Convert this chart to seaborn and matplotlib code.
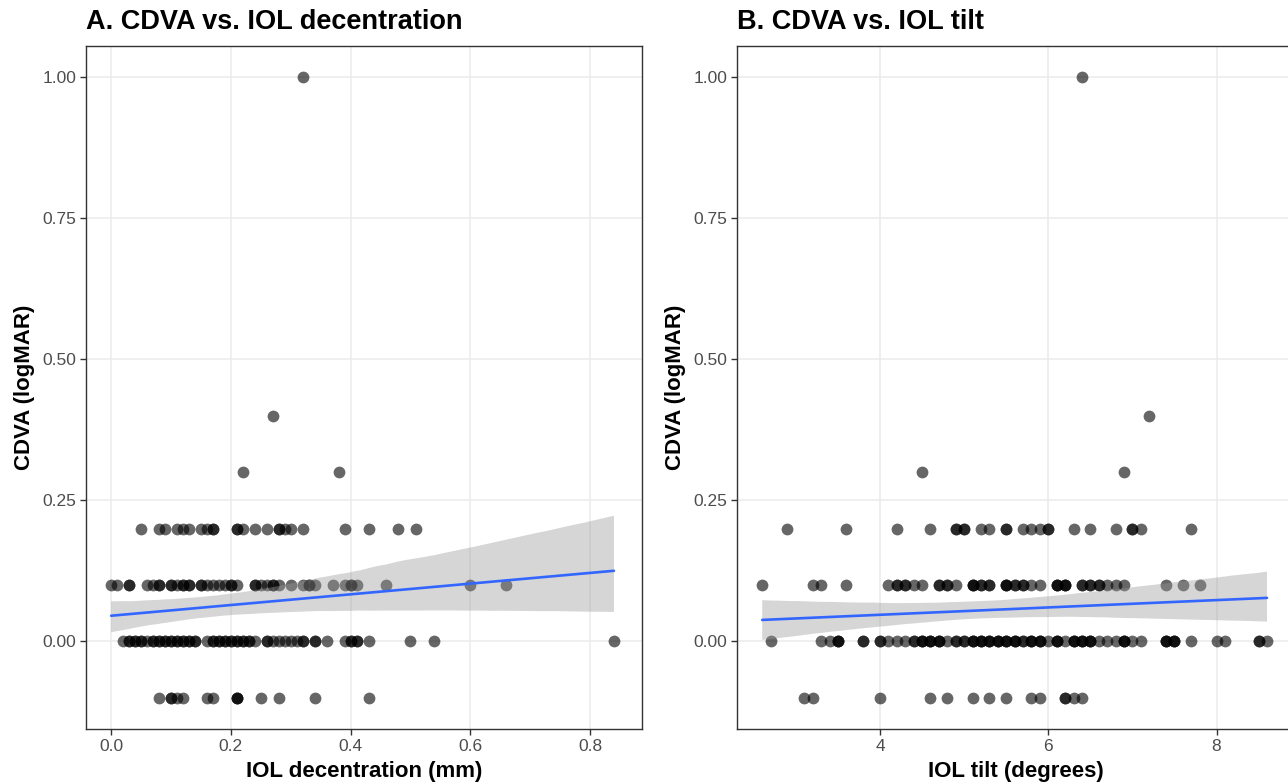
import numpy as np
import pandas as pd
import seaborn as sns
import matplotlib.pyplot as plt

sns.set_style("whitegrid", {"axes.edgecolor": "#333333", "grid.color": "#EBEBEB"})
plt.rcParams['font.family'] = ['Liberation Sans', 'DejaVu Sans']

# --- panel A: IOL decentration (mm), grouped by CDVA row ---
dec_y02 = [0.05, 0.08, 0.09, 0.11, 0.12, 0.13, 0.15, 0.16, 0.17, 0.17, 0.21, 0.21, 0.22, 0.24,
           0.26, 0.28, 0.28, 0.29, 0.30, 0.32, 0.39, 0.43, 0.48, 0.51]
dec_y01 = [0.00, 0.01, 0.03, 0.03, 0.06, 0.07, 0.08, 0.08, 0.10, 0.10, 0.11, 0.12, 0.12, 0.13,
           0.13, 0.15, 0.15, 0.16, 0.17, 0.18, 0.19, 0.20, 0.20, 0.21, 0.24, 0.24, 0.25, 0.26,
           0.27, 0.27, 0.28, 0.30, 0.32, 0.33, 0.33, 0.34, 0.37, 0.39, 0.40, 0.40, 0.41, 0.46,
           0.60, 0.66]
dec_y00 = [0.02, 0.03, 0.03, 0.04, 0.04, 0.05, 0.05, 0.06, 0.07, 0.07, 0.08, 0.08, 0.09, 0.09,
           0.10, 0.10, 0.11, 0.11, 0.12, 0.12, 0.13, 0.13, 0.14, 0.14, 0.16, 0.17, 0.17, 0.18,
           0.18, 0.19, 0.19, 0.20, 0.20, 0.21, 0.21, 0.22, 0.22, 0.23, 0.23, 0.24, 0.26, 0.26,
           0.27, 0.28, 0.29, 0.30, 0.31, 0.32, 0.32, 0.34, 0.34, 0.36, 0.39, 0.40, 0.40, 0.41,
           0.41, 0.43, 0.50, 0.54, 0.84]
dec_ym01 = [0.08, 0.10, 0.10, 0.11, 0.12, 0.16, 0.17, 0.21, 0.21, 0.21, 0.25, 0.28, 0.34, 0.43]
dec_out_x = [0.32, 0.27, 0.22, 0.38]
dec_out_y = [1.00, 0.40, 0.30, 0.30]

# --- panel B: IOL tilt (degrees), grouped by CDVA row ---
tilt_y02 = [2.9, 3.6, 4.2, 4.6, 4.9, 4.9, 5.0, 5.0, 5.2, 5.3, 5.5, 5.5, 5.7, 5.8, 5.9, 6.0, 6.0,
            6.3, 6.5, 6.8, 7.0, 7.0, 7.1, 7.7]
tilt_y01 = [2.6, 3.2, 3.3, 3.6, 4.1, 4.2, 4.2, 4.3, 4.3, 4.4, 4.5, 4.7, 4.7, 4.8, 4.8, 4.9, 5.1,
            5.1, 5.1, 5.2, 5.2, 5.3, 5.3, 5.5, 5.5, 5.5, 5.6, 5.6, 5.7, 5.7, 5.8, 5.9, 6.1, 6.1,
            6.1, 6.2, 6.2, 6.2, 6.4, 6.4, 6.5, 6.5, 6.6, 6.6, 6.7, 6.8, 6.9, 7.4, 7.6, 7.8]
tilt_y00 = [2.7, 3.3, 3.4, 3.5, 3.5, 3.5, 3.8, 3.8, 4.0, 4.0, 4.1, 4.2, 4.3, 4.4, 4.4, 4.5, 4.5,
            4.5, 4.6, 4.6, 4.6, 4.7, 4.7, 4.7, 4.8, 4.9, 4.9, 5.0, 5.0, 5.1, 5.1, 5.1, 5.2, 5.2,
            5.2, 5.3, 5.3, 5.3, 5.4, 5.4, 5.4, 5.5, 5.5, 5.5, 5.6, 5.6, 5.6, 5.7, 5.7, 5.8, 5.8,
            5.8, 5.9, 5.9, 5.9, 6.0, 6.1, 6.1, 6.1, 6.2, 6.3, 6.3, 6.3, 6.4, 6.4, 6.4, 6.5, 6.5,
            6.5, 6.6, 6.7, 6.8, 6.9, 6.9, 6.9, 7.0, 7.1, 7.4, 7.4, 7.4, 7.5, 7.5, 7.5, 7.7, 8.0,
            8.1, 8.5, 8.5, 8.6]
tilt_ym01 = [3.1, 3.2, 4.0, 4.6, 4.8, 5.1, 5.3, 5.5, 5.8, 5.9, 6.2, 6.2, 6.3, 6.4]
tilt_out_x = [6.4, 7.2, 6.9, 4.5]
tilt_out_y = [1.00, 0.40, 0.30, 0.30]


def make_df(r02, r01, r00, rm01, ox, oy):
    x = r02 + r01 + r00 + rm01 + ox
    y = [0.2] * len(r02) + [0.1] * len(r01) + [0.0] * len(r00) + [-0.1] * len(rm01) + oy
    return pd.DataFrame({"x": x, "cdva": y})


df_dec = make_df(dec_y02, dec_y01, dec_y00, dec_ym01, dec_out_x, dec_out_y)
df_tilt = make_df(tilt_y02, tilt_y01, tilt_y00, tilt_ym01, tilt_out_x, tilt_out_y)

fig = plt.figure(figsize=(12.88, 7.84), dpi=100)
ax1 = fig.add_axes([0.0668, 0.0702, 0.4317, 0.8712])
ax2 = fig.add_axes([0.5722, 0.0702, 0.4324, 0.8712])

panels = [
    (ax1, df_dec, "A. CDVA vs. IOL decentration", "IOL decentration (mm)", (-0.042, 0.887),
     [0.0, 0.2, 0.4, 0.6, 0.8], ["0.0", "0.2", "0.4", "0.6", "0.8"]),
    (ax2, df_tilt, "B. CDVA vs. IOL tilt", "IOL tilt (degrees)", (2.30, 8.92),
     [4, 6, 8], ["4", "6", "8"]),
]

for ax, df, title, xlab, xlim, xt, xtl in panels:
    sns.scatterplot(data=df, x="x", y="cdva", ax=ax, color="black", alpha=0.6, s=72,
                    linewidth=0, legend=False)
    sns.regplot(data=df, x="x", y="cdva", ax=ax, scatter=False, color="#999999",
                n_boot=2000, seed=7, line_kws={"color": "#3366FF", "lw": 1.9})
    band = ax.collections[-1]
    band.set_facecolor("#999999")
    band.set_alpha(0.4)
    band.set_edgecolor("none")

    ax.set_xlim(*xlim)
    ax.set_ylim(-0.155, 1.055)
    ax.set_xticks(xt)
    ax.set_xticklabels(xtl)
    ax.set_yticks([0.0, 0.25, 0.5, 0.75, 1.0])
    ax.set_yticklabels(["0.00", "0.25", "0.50", "0.75", "1.00"])
    ax.grid(True, color="#EBEBEB", lw=1.1)
    ax.tick_params(length=4, width=1, color="#333333", labelcolor="#4D4D4D",
                   labelsize=12.5, pad=3, bottom=True, left=True)
    for sp in ax.spines.values():
        sp.set_color("#333333")
        sp.set_linewidth(1.0)
    ax.set_xlabel(xlab, fontsize=16, fontweight="bold", labelpad=5, color="black")
    ax.set_ylabel("CDVA (logMAR)", fontsize=16, fontweight="bold", labelpad=5, color="black")
    ax.set_title(title, loc="left", fontsize=19.5, fontweight="bold", pad=12, color="black")

fig.savefig("out.png", dpi=100)
